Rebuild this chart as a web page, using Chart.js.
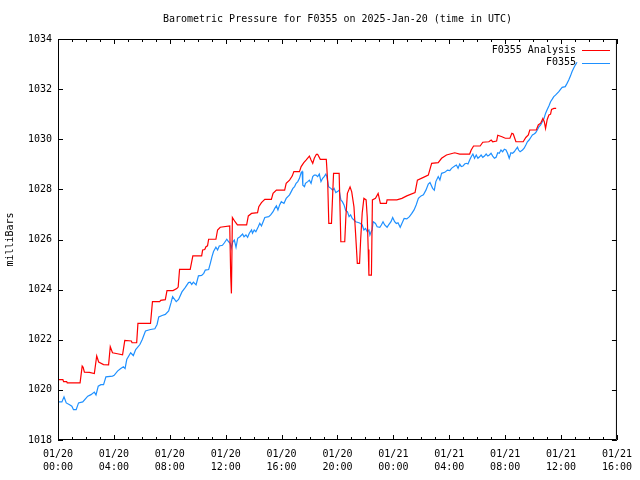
<!DOCTYPE html>
<html>
<head>
<meta charset="utf-8">
<script src="https://cdn.jsdelivr.net/npm/chart.js@4/dist/chart.umd.min.js"></script>
<style>
  html, body { margin: 0; padding: 0; background: #fff; }
  canvas { display: block; }
</style>
</head>
<body>
<canvas id="chart" width="640" height="480"></canvas>
<script>
// hours since 2025-01-20 00:00 UTC
const analysisHours = [0, 0.35, 0.4, 0.62, 0.66, 1.58, 1.73, 1.8, 1.89, 2.25, 2.6, 2.77, 2.91, 3.26, 3.62, 3.74, 3.9, 4.25, 4.62, 4.78,
  5.25, 5.3, 5.63, 5.72, 6.62, 6.76, 7.28, 7.35, 7.68, 7.8, 8.23, 8.5, 8.6, 8.7, 9.46, 9.65, 10.28, 10.35, 10.5, 10.59,
  10.7, 10.78, 11.3, 11.42, 11.61, 12.29, 12.36, 12.41, 12.48, 12.67, 12.84, 13.5, 13.62, 13.85, 14.28, 14.37, 14.56, 14.8, 15.27, 15.39,
  15.63, 16.22, 16.33, 16.57, 16.76, 16.88, 17.28, 17.4, 17.59, 17.75, 17.99, 18.11, 18.23, 18.34, 18.49, 18.58, 18.77, 19.2, 19.3, 19.38,
  19.57, 19.72, 20.12, 20.24, 20.52, 20.6, 20.71, 20.9, 21.02, 21.18, 21.3, 21.42, 21.58, 21.66, 21.77, 21.89, 22.05, 22.13, 22.2, 22.25,
  22.43, 22.5, 22.72, 22.91, 23.07, 23.5, 23.55, 24.25, 24.61, 24.96, 25.55, 25.72, 26.15, 26.5, 26.74, 27.21, 27.45, 27.8, 28.39, 28.75,
  29.46, 29.57, 29.74, 30.21, 30.4, 30.83, 31.0, 31.11, 31.39, 31.47, 31.77, 32.01, 32.34, 32.48, 32.58, 32.77, 33.29, 33.48, 33.66, 33.76,
  34.23, 34.37, 34.54, 34.7, 34.8, 34.89, 35.01, 35.13, 35.25, 35.32, 35.49, 35.65];
const analysisValues = [1020.41, 1020.41, 1020.33, 1020.33, 1020.28, 1020.28, 1020.95, 1020.9, 1020.71, 1020.7, 1020.65, 1021.35, 1021.11, 1021.01, 1021.0, 1021.72, 1021.48, 1021.44, 1021.4, 1021.97,
  1021.95, 1021.88, 1021.88, 1022.65, 1022.65, 1023.52, 1023.52, 1023.57, 1023.6, 1023.96, 1023.96, 1024.04, 1024.1, 1024.81, 1024.81, 1025.35, 1025.35, 1025.58, 1025.6, 1025.71,
  1025.75, 1026.01, 1026.01, 1026.38, 1026.49, 1026.54, 1024.54, 1023.85, 1026.88, 1026.71, 1026.58, 1026.58, 1026.94, 1027.04, 1027.07, 1027.31, 1027.47, 1027.6, 1027.6, 1027.84,
  1027.97, 1027.97, 1028.24, 1028.37, 1028.53, 1028.71, 1028.71, 1028.91, 1029.07, 1029.17, 1029.33, 1029.17, 1029.04, 1029.24, 1029.4, 1029.4, 1029.2, 1029.2, 1028.3, 1026.64,
  1026.64, 1028.64, 1028.64, 1025.91, 1025.91, 1026.9, 1027.84, 1028.1, 1027.9, 1027.3, 1026.2, 1025.05, 1025.05, 1026.0, 1027.06, 1027.64, 1027.58, 1026.9, 1025.6, 1024.58,
  1024.58, 1027.58, 1027.64, 1027.84, 1027.44, 1027.44, 1027.58, 1027.58, 1027.64, 1027.74, 1027.87, 1028.37, 1028.48, 1028.57, 1029.04, 1029.07, 1029.24, 1029.37, 1029.46, 1029.41,
  1029.41, 1029.57, 1029.73, 1029.73, 1029.88, 1029.9, 1029.97, 1029.9, 1029.93, 1030.16, 1030.1, 1030.04, 1030.04, 1030.24, 1030.21, 1029.9, 1029.9, 1030.07, 1030.17, 1030.37,
  1030.37, 1030.57, 1030.64, 1030.83, 1030.7, 1030.43, 1030.79, 1030.97, 1031.0, 1031.19, 1031.23, 1031.23];

const stationHours = [0, 0.28, 0.43, 0.59, 0.83, 0.99, 1.11, 1.3, 1.47, 1.77, 2.13, 2.36, 2.6, 2.72, 2.88, 3.07, 3.26, 3.43, 3.9, 4.02,
  4.26, 4.49, 4.68, 4.8, 4.92, 5.2, 5.39, 5.56, 5.86, 6.03, 6.26, 6.62, 6.93, 7.09, 7.21, 7.45, 7.68, 7.92, 8.09, 8.2,
  8.46, 8.63, 8.87, 9.1, 9.34, 9.46, 9.57, 9.69, 9.88, 10.05, 10.28, 10.43, 10.54, 10.78, 10.9, 11.02, 11.13, 11.3, 11.42, 11.54,
  11.77, 11.91, 12.08, 12.2, 12.32, 12.39, 12.51, 12.62, 12.74, 12.86, 13.02, 13.21, 13.31, 13.45, 13.57, 13.69, 13.85, 13.92, 14.04, 14.16,
  14.33, 14.44, 14.56, 14.68, 14.8, 15.08, 15.22, 15.39, 15.51, 15.63, 15.74, 15.86, 15.98, 16.17, 16.33, 16.57, 16.69, 16.81, 16.93, 17.04,
  17.16, 17.28, 17.4, 17.47, 17.52, 17.64, 17.71, 17.87, 17.99, 18.11, 18.23, 18.34, 18.46, 18.58, 18.7, 18.82, 18.94, 19.05, 19.17, 19.24,
  19.36, 19.53, 19.65, 19.76, 19.88, 20.0, 20.12, 20.24, 20.35, 20.47, 20.59, 20.71, 20.83, 20.94, 21.06, 21.18, 21.3, 21.54, 21.65, 21.77,
  21.89, 22.01, 22.13, 22.25, 22.32, 22.41, 22.48, 22.55, 22.72, 22.84, 23.03, 23.14, 23.26, 23.38, 23.55, 23.66, 23.83, 23.95, 24.09, 24.21,
  24.33, 24.49, 24.61, 24.77, 24.96, 25.15, 25.32, 25.48, 25.63, 25.79, 25.98, 26.15, 26.33, 26.5, 26.62, 26.81, 26.93, 27.04, 27.21, 27.33,
  27.45, 27.68, 27.87, 28.04, 28.16, 28.39, 28.51, 28.63, 28.75, 28.86, 28.98, 29.1, 29.22, 29.34, 29.46, 29.57, 29.69, 29.81, 29.93, 30.05,
  30.17, 30.28, 30.4, 30.52, 30.64, 30.76, 30.87, 30.99, 31.11, 31.23, 31.35, 31.47, 31.58, 31.7, 31.82, 31.94, 32.06, 32.17, 32.29, 32.41,
  32.53, 32.65, 32.77, 32.88, 32.96, 33.07, 33.24, 33.36, 33.48, 33.59, 33.71, 33.83, 33.95, 34.07, 34.18, 34.3, 34.42, 34.54, 34.66, 34.78,
  34.89, 35.01, 35.13, 35.25, 35.37, 35.48, 35.6, 35.72, 35.84, 35.96, 36.08, 36.3, 36.43, 36.55, 36.67, 36.79, 36.9, 37.02, 37.14];
const stationValues = [1019.52, 1019.52, 1019.72, 1019.48, 1019.41, 1019.35, 1019.21, 1019.21, 1019.48, 1019.52, 1019.75, 1019.81, 1019.91, 1019.8, 1020.15, 1020.21, 1020.21, 1020.52, 1020.55, 1020.58,
  1020.75, 1020.85, 1020.92, 1020.85, 1021.21, 1021.48, 1021.37, 1021.61, 1021.81, 1022.01, 1022.35, 1022.41, 1022.44, 1022.61, 1022.91, 1022.97, 1023.01, 1023.15, 1023.48, 1023.72,
  1023.52, 1023.61, 1023.91, 1024.08, 1024.28, 1024.3, 1024.21, 1024.3, 1024.19, 1024.55, 1024.57, 1024.65, 1024.78, 1024.8, 1025.05, 1025.32, 1025.52, 1025.69, 1025.58, 1025.74,
  1025.77, 1025.87, 1026.01, 1025.92, 1025.85, 1025.65, 1025.91, 1025.98, 1025.69, 1026.05, 1026.11, 1026.22, 1026.11, 1026.18, 1026.09, 1026.25, 1026.38, 1026.25, 1026.38, 1026.31,
  1026.51, 1026.65, 1026.54, 1026.71, 1026.88, 1026.91, 1026.98, 1027.11, 1027.24, 1027.34, 1027.18, 1027.38, 1027.51, 1027.44, 1027.64, 1027.78, 1027.91, 1028.04, 1028.11, 1028.24,
  1028.31, 1028.44, 1028.67, 1028.71, 1028.17, 1028.11, 1028.24, 1028.31, 1028.37, 1028.24, 1028.51, 1028.57, 1028.57, 1028.51, 1028.61, 1028.31, 1028.44, 1028.51, 1028.61, 1028.51,
  1028.11, 1028.04, 1027.97, 1028.04, 1027.87, 1027.91, 1027.97, 1027.58, 1027.51, 1027.38, 1027.15, 1027.11, 1026.91, 1026.98, 1026.84, 1026.78, 1026.71, 1026.67, 1026.64, 1026.58,
  1026.38, 1026.44, 1026.31, 1026.38, 1026.18, 1026.31, 1026.38, 1026.71, 1026.64, 1026.51, 1026.49, 1026.58, 1026.71, 1026.58, 1026.49, 1026.58, 1026.71, 1026.88, 1026.71, 1026.64,
  1026.67, 1026.49, 1026.64, 1026.84, 1026.82, 1026.91, 1027.04, 1027.18, 1027.38, 1027.64, 1027.74, 1027.78, 1027.97, 1028.21, 1028.27, 1028.04, 1027.97, 1028.31, 1028.51, 1028.37,
  1028.64, 1028.68, 1028.77, 1028.75, 1028.84, 1028.93, 1028.97, 1028.84, 1029.01, 1028.91, 1028.93, 1029.01, 1029.04, 1029.01, 1029.17, 1029.3, 1029.41, 1029.24, 1029.37, 1029.24,
  1029.3, 1029.37, 1029.28, 1029.33, 1029.41, 1029.33, 1029.37, 1029.44, 1029.33, 1029.24, 1029.28, 1029.46, 1029.44, 1029.57, 1029.5, 1029.6, 1029.57, 1029.44, 1029.24, 1029.46,
  1029.44, 1029.5, 1029.6, 1029.68, 1029.57, 1029.5, 1029.57, 1029.64, 1029.77, 1029.9, 1029.97, 1030.07, 1030.17, 1030.21, 1030.26, 1030.37, 1030.5, 1030.57, 1030.7, 1030.83,
  1031.03, 1031.19, 1031.33, 1031.5, 1031.6, 1031.7, 1031.76, 1031.83, 1031.9, 1031.99, 1032.07, 1032.1, 1032.23, 1032.36, 1032.52, 1032.7, 1032.83, 1032.96, 1033.07];

const xTickDates = ['01/20', '01/20', '01/20', '01/20', '01/20', '01/20', '01/21', '01/21', '01/21', '01/21', '01/21'];
const xTickTimes = ['00:00', '04:00', '08:00', '12:00', '16:00', '20:00', '00:00', '04:00', '08:00', '12:00', '16:00'];

const FONT = 'DejaVu Sans Mono';

function pairs(xs, ys) {
    return xs.map((x, i) => ({ x: x, y: ys[i] }));
}

// gnuplot-ish frame: border, inward ticks, title, legend
const framePlugin = {
    id: 'frame',
    afterDraw(chart) {
        const ctx = chart.ctx;
        const a = chart.chartArea;
        const xs = chart.scales.x;
        const ys = chart.scales.y;
        ctx.save();
        ctx.strokeStyle = '#000';
        ctx.lineWidth = 1;
        ctx.beginPath();
        ctx.rect(a.left + 0.5, a.top + 0.5, a.right - a.left - 1, a.bottom - a.top - 1);
        for (let h = 0; h <= 40; h++) {
            const px = Math.round(xs.getPixelForValue(h)) + 0.5;
            const len = h % 4 === 0 ? 5 : 3;
            ctx.moveTo(px, a.bottom);
            ctx.lineTo(px, a.bottom - len);
            ctx.moveTo(px, a.top);
            ctx.lineTo(px, a.top + len);
        }
        for (let v = 1018; v <= 1034; v += 2) {
            const py = Math.round(ys.getPixelForValue(v)) + 0.5;
            ctx.moveTo(a.left, py);
            ctx.lineTo(a.left + 5, py);
            ctx.moveTo(a.right, py);
            ctx.lineTo(a.right - 5, py);
        }
        ctx.stroke();

        ctx.fillStyle = '#000';
        ctx.font = '10px "' + FONT + '"';
        ctx.textBaseline = 'middle';
        ctx.textAlign = 'center';
        ctx.fillText('Barometric Pressure for F0355 on 2025-Jan-20 (time in UTC)', (a.left + a.right) / 2, 19);

        ctx.textAlign = 'right';
        chart.data.datasets.forEach((ds, i) => {
            const y = 50 + i * 12.5;
            ctx.fillStyle = '#000';
            ctx.fillText(ds.label, 576, y);
            ctx.strokeStyle = ds.borderColor;
            ctx.beginPath();
            ctx.moveTo(582, Math.round(y) + 0.5);
            ctx.lineTo(610, Math.round(y) + 0.5);
            ctx.stroke();
        });
        ctx.restore();
    }
};

new Chart(document.getElementById('chart'), {
    type: 'line',
    data: {
        datasets: [{
            label: 'F0355 Analysis',
            data: pairs(analysisHours, analysisValues),
            borderColor: '#ff0000',
            borderWidth: 1.2,
            pointRadius: 0,
            tension: 0
        }, {
            label: 'F0355',
            data: pairs(stationHours, stationValues),
            borderColor: '#1e90ff',
            borderWidth: 1.2,
            pointRadius: 0,
            tension: 0
        }]
    },
    options: {
        responsive: false,
        animation: false,
        layout: { padding: { left: 0, right: 18, top: 39, bottom: 0 } },
        plugins: {
            legend: { display: false },
            tooltip: { enabled: false }
        },
        scales: {
            x: {
                type: 'linear',
                min: 0,
                max: 40,
                afterFit: (s) => { s.height = 40; },
                afterBuildTicks: (s) => { s.ticks = xTickTimes.map((t, i) => ({ value: i * 4 })); },
                ticks: {
                    autoSkip: false,
                    maxRotation: 0,
                    padding: 8,
                    color: '#000',
                    font: { family: FONT, size: 10, lineHeight: 1.3 },
                    callback: (v, i) => [xTickDates[i], xTickTimes[i]]
                },
                grid: { display: false, drawTicks: false },
                border: { display: false }
            },
            y: {
                min: 1018,
                max: 1034,
                afterFit: (s) => { s.width = 58; },
                ticks: {
                    stepSize: 2,
                    padding: 6,
                    color: '#000',
                    font: { family: FONT, size: 10 },
                    callback: (v) => String(v)
                },
                title: {
                    display: true,
                    text: 'milliBars',
                    color: '#000',
                    padding: { top: 4, bottom: 0 },
                    font: { family: FONT, size: 10 }
                },
                grid: { display: false, drawTicks: false },
                border: { display: false }
            }
        }
    },
    plugins: [framePlugin]
});
</script>
</body>
</html>
